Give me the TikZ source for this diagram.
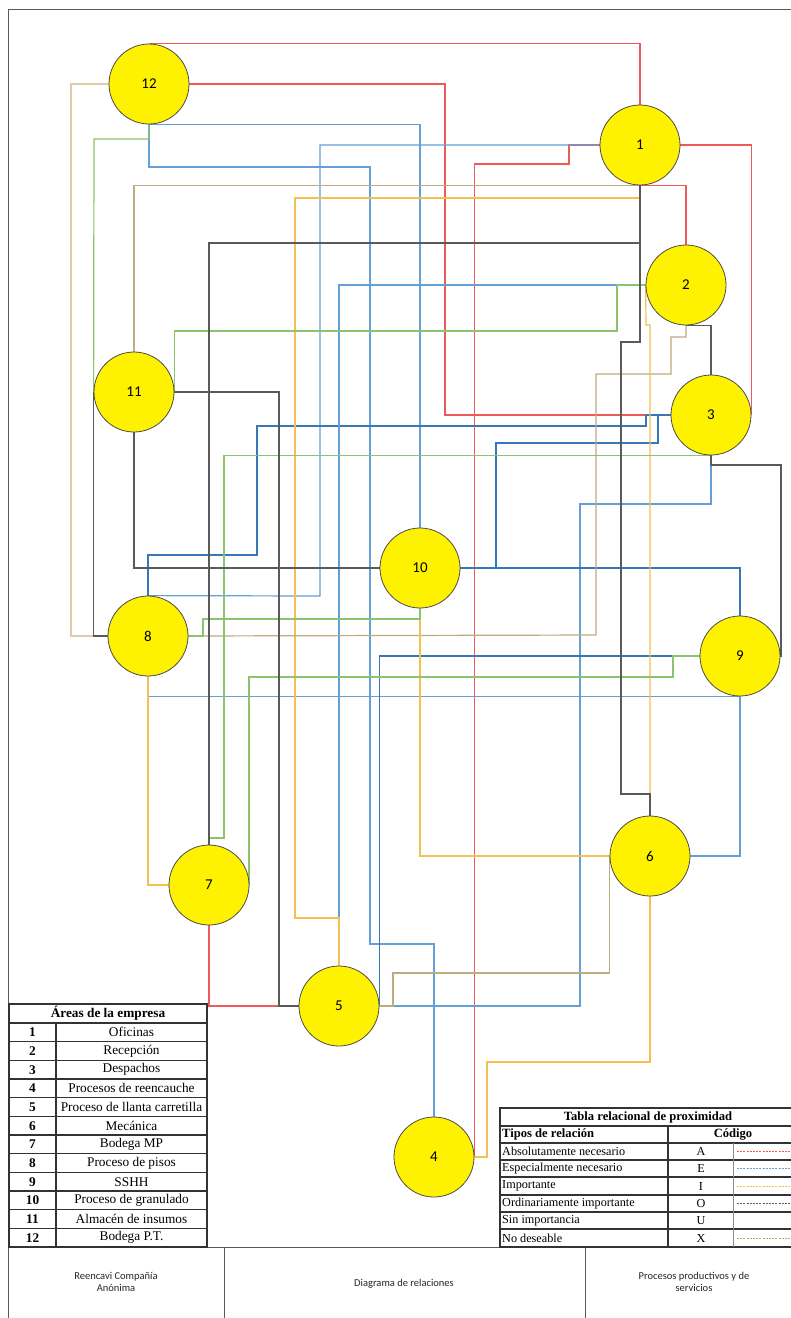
\documentclass[tikz,border=0pt]{standalone}
\usepackage{fontspec}
\setmainfont{Liberation Serif}
\newfontfamily\calfont{Carlito}
\pgfdeclarelayer{background}
\pgfsetlayers{background,main}
\definecolor{cA}{RGB}{236,90,90}
\definecolor{cE}{RGB}{100,160,215}
\definecolor{cEd}{RGB}{55,120,185}
\definecolor{cI}{RGB}{244,192,80}
\definecolor{cO}{RGB}{90,90,90}
\definecolor{cX}{RGB}{140,195,110}
\definecolor{cT}{RGB}{190,172,128}
\definecolor{cTl}{RGB}{222,205,165}
\tikzset{
  area/.style={circle, draw=black!70, fill=yellow, minimum size=80pt, inner sep=0pt, line width=0.8pt,
    font=\calfont\fontsize{15}{16}\selectfont},
  lnA/.style={draw=cA, line width=1.2pt},
  lnE/.style={draw=cE, line width=1.2pt},
  lnEd/.style={draw=cEd, line width=1.2pt},
  lnI/.style={draw=cI, line width=1.2pt},
  lnO/.style={draw=cO, line width=1.2pt},
  lnX/.style={draw=cX, line width=1.2pt},
  lnT/.style={draw=cT, line width=1.2pt},
  lnTl/.style={draw=cTl, line width=1.2pt},
  frame/.style={draw=black!65, line width=1pt},
  tbl/.style={draw=black!80, line width=1.2pt},
  tbltxt/.style={inner sep=0pt, font=\fontsize{13.3}{14}\selectfont},
  prxtxt/.style={inner sep=0pt, font=\fontsize{12.2}{13}\selectfont},
  ttl/.style={align=center, inner sep=0pt, text=black!85, font=\calfont\fontsize{10.5}{12.5}\selectfont},
  legdash/.style={line width=0.8pt, dash pattern=on 2pt off 1.2pt}
}
\begin{document}
\begin{tikzpicture}[x=1pt,y=-1pt]
\useasboundingbox (0,0) rectangle (791,1318);
\clip (0,0) rectangle (791,1318);

% areas
\node[area] (n1) at (640,145) {1};
\node[area] (n2) at (686,285) {2};
\node[area] (n3) at (711,415) {3};
\node[area] (n4) at (434,1157) {4};
\node[area] (n5) at (339,1006) {5};
\node[area] (n6) at (650,856) {6};
\node[area] (n7) at (209,885) {7};
\node[area] (n8) at (148,636) {8};
\node[area] (n9) at (740,656) {9};
\node[area] (n10) at (420,568) {10};
\node[area] (n11) at (134,392) {11};
\node[area] (n12) at (149,84) {12};

\begin{pgfonlayer}{background}
\fill[white] (0,0) rectangle (791,1318);
% A - red
\draw[lnA] (n12.north) -| (n1.north);
\draw[lnA] (n12.east) -| (445,415) -- (n3.west);
\draw[lnA] (n1.east) -| (n3.east);
\draw[lnA] (n1.south) -| (n2.north);
\draw[lnA] (n1.west) -| (569,164) -| (n4.east);
\draw[lnA] (n7.south) |- (n5.west);
% E - blue
\draw[lnE] (n12.south) -| (n10.north);
\draw[lnE] (n12.south) |- (370,167) -- (370,944) -| (n4.north);
\draw[lnE] (n1.west) -| (320,596) -- (n8.north);
\draw[lnEd] (n3.west) -- (646,415) |- (257,426) |- (148,555) -- (n8.north);
\draw[lnEd] (n3.west) -| (658,443) -| (496,568) -- (n10.east);
\draw[lnE] (n3.south) |- (580,504) |- (n5.east);
\draw[lnE] (n2.west) -| (n5.north);
\draw[lnEd] (n10.east) -| (n9.north);
\draw[lnE] (n8.south) |- (n9.south);
\draw[lnE] (n9.south) |- (n6.east);
\draw[lnEd] (n9.west) -| (n5.east);
% I - yellow
\draw[lnTl] (n12.west) -- (71,84) |- (n8.west);
\draw[lnI] (n1.south) |- (295,198) |- (339,918) -- (n5.north);
\draw[lnT] (n2.south) -- (686,337) -| (671,374) -| (596,635) -- (n8.east);
\draw[lnI] (n2.west) -- (646,325) -| (n6.north);
\draw[lnI] (n8.south) |- (n7.west);
\draw[lnI] (n10.south) |- (n6.west);
\draw[lnI] (n6.south) |- (487,1062) |- (n4.east);
\draw[lnT] (n6.west) |- (393,973) |- (n5.east);
\draw[lnT] (n1.south) -| (n11.north);
% X - green
\draw[lnX] (n12.south) |- (94,139) -- (n11.west);
\draw[lnX] (n11.east) |- (617,331) |- (n2.west);
\draw[lnX] (n3.south) -| (224,838) -| (n7.north);
\draw[lnX] (n9.west) -- (673,656) |- (249,677) |- (n7.east);
\draw[lnX] (n10.south) |- (203,619) |- (n8.east);
% O - black
\draw[lnO] (n11.east) -| (279,1006) -- (n5.west);
\draw[lnO] (n11.south) |- (n10.west);
\draw[lnO] (n11.west) |- (n8.west);
\draw[lnO] (n1.south) |- (209,243) -- (n7.north);
\draw[lnO] (n1.south) |- (621,342) |- (650,794) -- (n6.north);
\draw[lnO] (n2.south) -| (n3.north);
\draw[lnO] (n3.south) |- (781,465) |- (n9.east);
\end{pgfonlayer}

% frame and title block
\draw[frame] (8,1318) -- (8,9) -- (795,9);
\draw[frame] (8,1247) -- (795,1247);
\draw[frame] (224,1247) -- (224,1318);
\draw[frame] (585,1247) -- (585,1318);
\node[ttl] (t1) at (116,1282) {Reencavi Compañía\\Anónima};
\node[ttl] (t2) at (404,1284) {Diagrama de relaciones};
\node[ttl] (t3) at (694,1282) {Procesos productivos y de\\servicios};

% areas table
\fill[white] (9,1004) rectangle (207,1247);
\draw[tbl] (9,1004) rectangle (207,1247);
\draw[tbl] (56,1023) -- (56,1247);
\foreach \i in {0,...,11} {
  \draw[tbl] (9,{1023+18.667*\i}) -- (207,{1023+18.667*\i});
}
\node[tbltxt, font=\bfseries\fontsize{13.3}{14}\selectfont] (ah) at (108,1013.5) {Áreas de la empresa};
\foreach \n/\t [count=\k] in {1/Oficinas, 2/Recepción, 3/Despachos, 4/Procesos de reencauche,
  5/Proceso de llanta carretilla, 6/Mecánica, 7/Bodega MP, 8/Proceso de pisos, 9/SSHH,
  10/Proceso de granulado, 11/Almacén de insumos, 12/Bodega P.T.} {
  \node[tbltxt, font=\bfseries\fontsize{13.3}{14}\selectfont] (an\k) at (32.5,{1023+18.667*(\k-0.5)}) {\n};
  \node[tbltxt] (at\k) at (131.5,{1023+18.667*(\k-0.5)}) {\t};
}

% proximity table
\fill[white] (500,1108) rectangle (798,1247);
\draw[tbl] (500,1108) rectangle (798,1247);
\foreach \yy in {1126,1143,1160,1177,1195,1212,1229} {
  \draw[tbl] (500,\yy) -- (798,\yy);
}
\draw[tbl] (668,1126) -- (668,1247);
\draw[draw=black!45, line width=1pt] (733,1143) -- (733,1247);
\node[prxtxt, font=\bfseries\fontsize{12.6}{13}\selectfont] (ph) at (648,1117.5) {Tabla relacional de proximidad};
\node[prxtxt, anchor=west, font=\bfseries\fontsize{12.6}{13}\selectfont] (pt) at (502,1134.5) {Tipos de relación};
\node[prxtxt, font=\bfseries\fontsize{12.6}{13}\selectfont] (pc) at (733,1134.5) {Código};
\foreach \t/\c/\y/\col [count=\k] in {Absolutamente necesario/A/1151.5/cA, Especialmente necesario/E/1168.5/cE,
  Importante/I/1186/cI, Ordinariamente importante/O/1203.5/cO, Sin importancia/U/1220.5/none,
  No deseable/X/1238/cX} {
  \node[prxtxt, anchor=west] (pr\k) at (502,\y) {\t};
  \node[prxtxt] (pk\k) at (701,\y) {\c};
  \draw[legdash, draw=\col] (737,\y) -- (795,\y);
}
\end{tikzpicture}
\end{document}
